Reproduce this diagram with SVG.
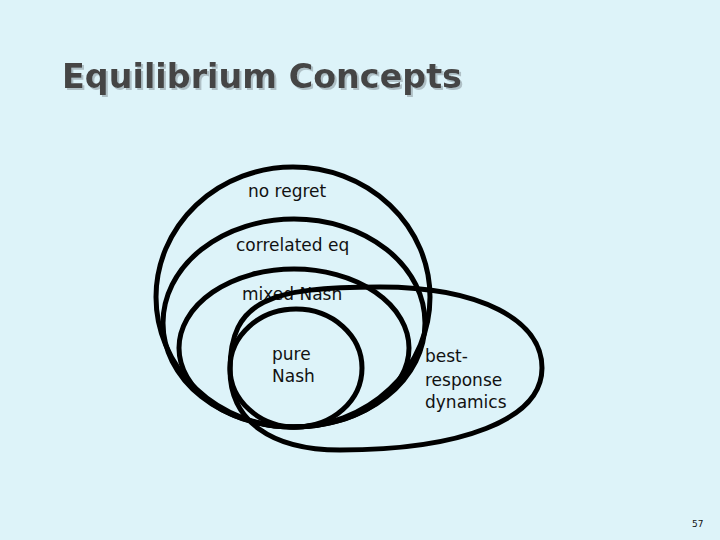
<svg xmlns="http://www.w3.org/2000/svg" width="720" height="540" viewBox="0 0 720 540">
<style>
.ring{fill:none;stroke:#000;stroke-width:5}
.lbl{font-family:"DejaVu Sans","Verdana",sans-serif;font-size:17px;fill:#111}
.title{font-family:"Comic Sans MS","DejaVu Sans",sans-serif;font-weight:bold;font-size:34px}
</style>
<defs>
<filter id="shadow" x="-5%" y="-20%" width="110%" height="150%">
<feDropShadow dx="2" dy="2" stdDeviation="0.5" flood-color="#AFC0C6"/>
</filter>
</defs>
<rect width="720" height="540" fill="#DDF3F9"/>
<g id="title">
<text class="title" x="62" y="88" fill="#454545" filter="url(#shadow)" textLength="400" lengthAdjust="spacingAndGlyphs">Equilibrium Concepts</text>
</g>
<g id="no-regret">
<ellipse class="ring" cx="293" cy="297" rx="137" ry="130"/>
<text class="lbl" x="248" y="197">no regret</text>
</g>
<g id="correlated-eq">
<ellipse class="ring" cx="294" cy="323" rx="131" ry="104"/>
<text class="lbl" x="236" y="251">correlated eq</text>
</g>
<g id="mixed-nash">
<ellipse class="ring" cx="294" cy="348" rx="115" ry="79"/>
<text class="lbl" x="242" y="300">mixed Nash</text>
</g>
<g id="pure-nash">
<ellipse class="ring" cx="296" cy="368" rx="66" ry="59"/>
<text class="lbl" x="272" y="360">pure</text>
<text class="lbl" x="272" y="382">Nash</text>
</g>
<g id="best-response">
<path class="ring" d="M 230 370 C 230 300, 270 287, 380 287 C 480 287, 542 320, 542 368 C 542 420, 460 450, 340 450 C 270 450, 230 420, 230 370 Z"/>
<text class="lbl" x="425" y="362">best-</text>
<text class="lbl" x="425" y="386">response</text>
<text class="lbl" x="425" y="408">dynamics</text>
</g>
<text x="692" y="527" font-family="DejaVu Sans, sans-serif" font-size="9" fill="#111">57</text>
</svg>
